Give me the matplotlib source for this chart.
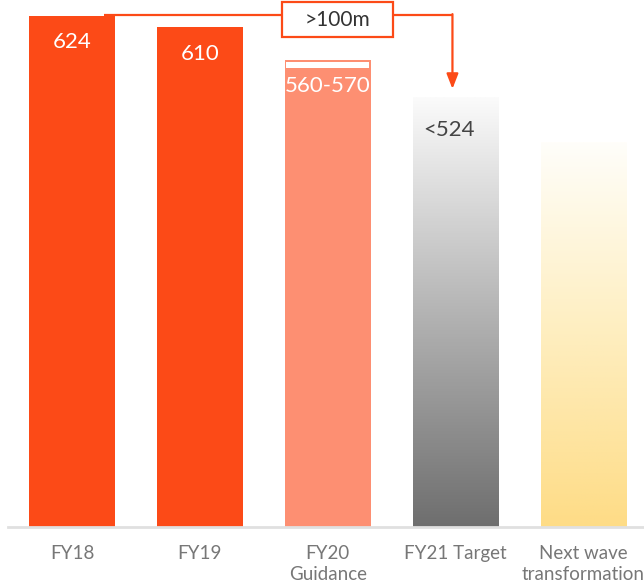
import matplotlib.pyplot as plt
import numpy as np
from matplotlib.colors import LinearSegmentedColormap
from matplotlib.patches import Rectangle

# data
categories = ["FY18", "FY19", "FY20\nGuidance", "FY21 Target", "Next wave\ntransformation"]
values = [624, 610, 570, 524, 470]
labels = ["624", "610", "560-570", "<524", ""]
guidance_low = 560
gap_label = ">100m"

orange = "#fc4a17"
light_orange = "#fd8f72"

plt.rcParams["font.family"] = ["Lato", "DejaVu Sans"]

fig = plt.figure(figsize=(6.44, 5.84), dpi=100)
ax = fig.add_axes([8 / 644, 57 / 584, 636 / 644, 527 / 584])

x = np.arange(len(categories))
width = 0.672

# solid bars
ax.bar(x[:2], values[:2], width=width, color=orange, zorder=2)
ax.bar(x[2], values[2], width=width, color=light_orange, zorder=2)
# white stripe marking the guidance range
ax.add_patch(Rectangle((x[2] - width / 2 + 0.012, guidance_low + 1), width - 0.024,
                       values[2] - guidance_low - 3, facecolor="white", edgecolor="none", zorder=3))

# gradient bars
grad = np.linspace(0, 1, 256).reshape(-1, 1)
cmaps = {
    3: LinearSegmentedColormap.from_list("grey", ["#6e6e6e", "#b4b4b4", "#fbfbfb"]),
    4: LinearSegmentedColormap.from_list("yellow", ["#fedc86", "#feeebf", "#fffefa"]),
}
for i, cm in cmaps.items():
    ax.imshow(grad, cmap=cm, origin="lower", aspect="auto", zorder=2,
              extent=(x[i] - width / 2, x[i] + width / 2, 0, values[i]))

# value labels inside bars
for i in range(3):
    ax.text(x[i], values[i] - 32, labels[i], ha="center", va="center",
            color="white", fontsize=16, zorder=4)
ax.text(x[3] - 0.05, values[3] - 39, labels[3], ha="center", va="center",
        color="#444444", fontsize=16, zorder=4)

# bracket arrow from FY18 to FY21 target
line_y = values[0] + 1.5
ax.plot([x[0] + 0.25, x[3] - 0.025], [line_y, line_y], color=orange, lw=1.6,
        zorder=4, clip_on=False, solid_capstyle="butt")
ax.annotate("", xy=(x[3] - 0.025, values[3] + 11), xytext=(x[3] - 0.025, line_y + 0.8),
            arrowprops=dict(arrowstyle="-|>,head_length=0.9,head_width=0.35",
                            color=orange, lw=1.6, shrinkA=0, shrinkB=0), zorder=4)
box_x, box_y, box_w, box_h = x[2] + 0.08, line_y - 6, 0.868, 42
ax.add_patch(Rectangle((box_x - box_w / 2, box_y - box_h / 2), box_w, box_h,
                       facecolor="white", edgecolor=orange, lw=1.6, zorder=5, clip_on=False))
ax.text(box_x, box_y, gap_label, ha="center", va="center", fontsize=15,
        color="#333333", zorder=6)

ax.set_xlim(-0.5, -0.5 + 636 / 127.9)
ax.set_ylim(0, 527 * 624 / 511)
ax.set_xticks(x)
ax.set_xticklabels(categories, fontsize=13.5, color="#777777", linespacing=1.28)
ax.tick_params(axis="x", length=0, pad=13)
ax.set_yticks([])
for side in ["top", "right", "left"]:
    ax.spines[side].set_visible(False)
ax.spines["bottom"].set_color("#e0e0e0")
ax.spines["bottom"].set_linewidth(2)
ax.spines["bottom"].set_zorder(5)

fig.savefig("out.png", dpi=100)
